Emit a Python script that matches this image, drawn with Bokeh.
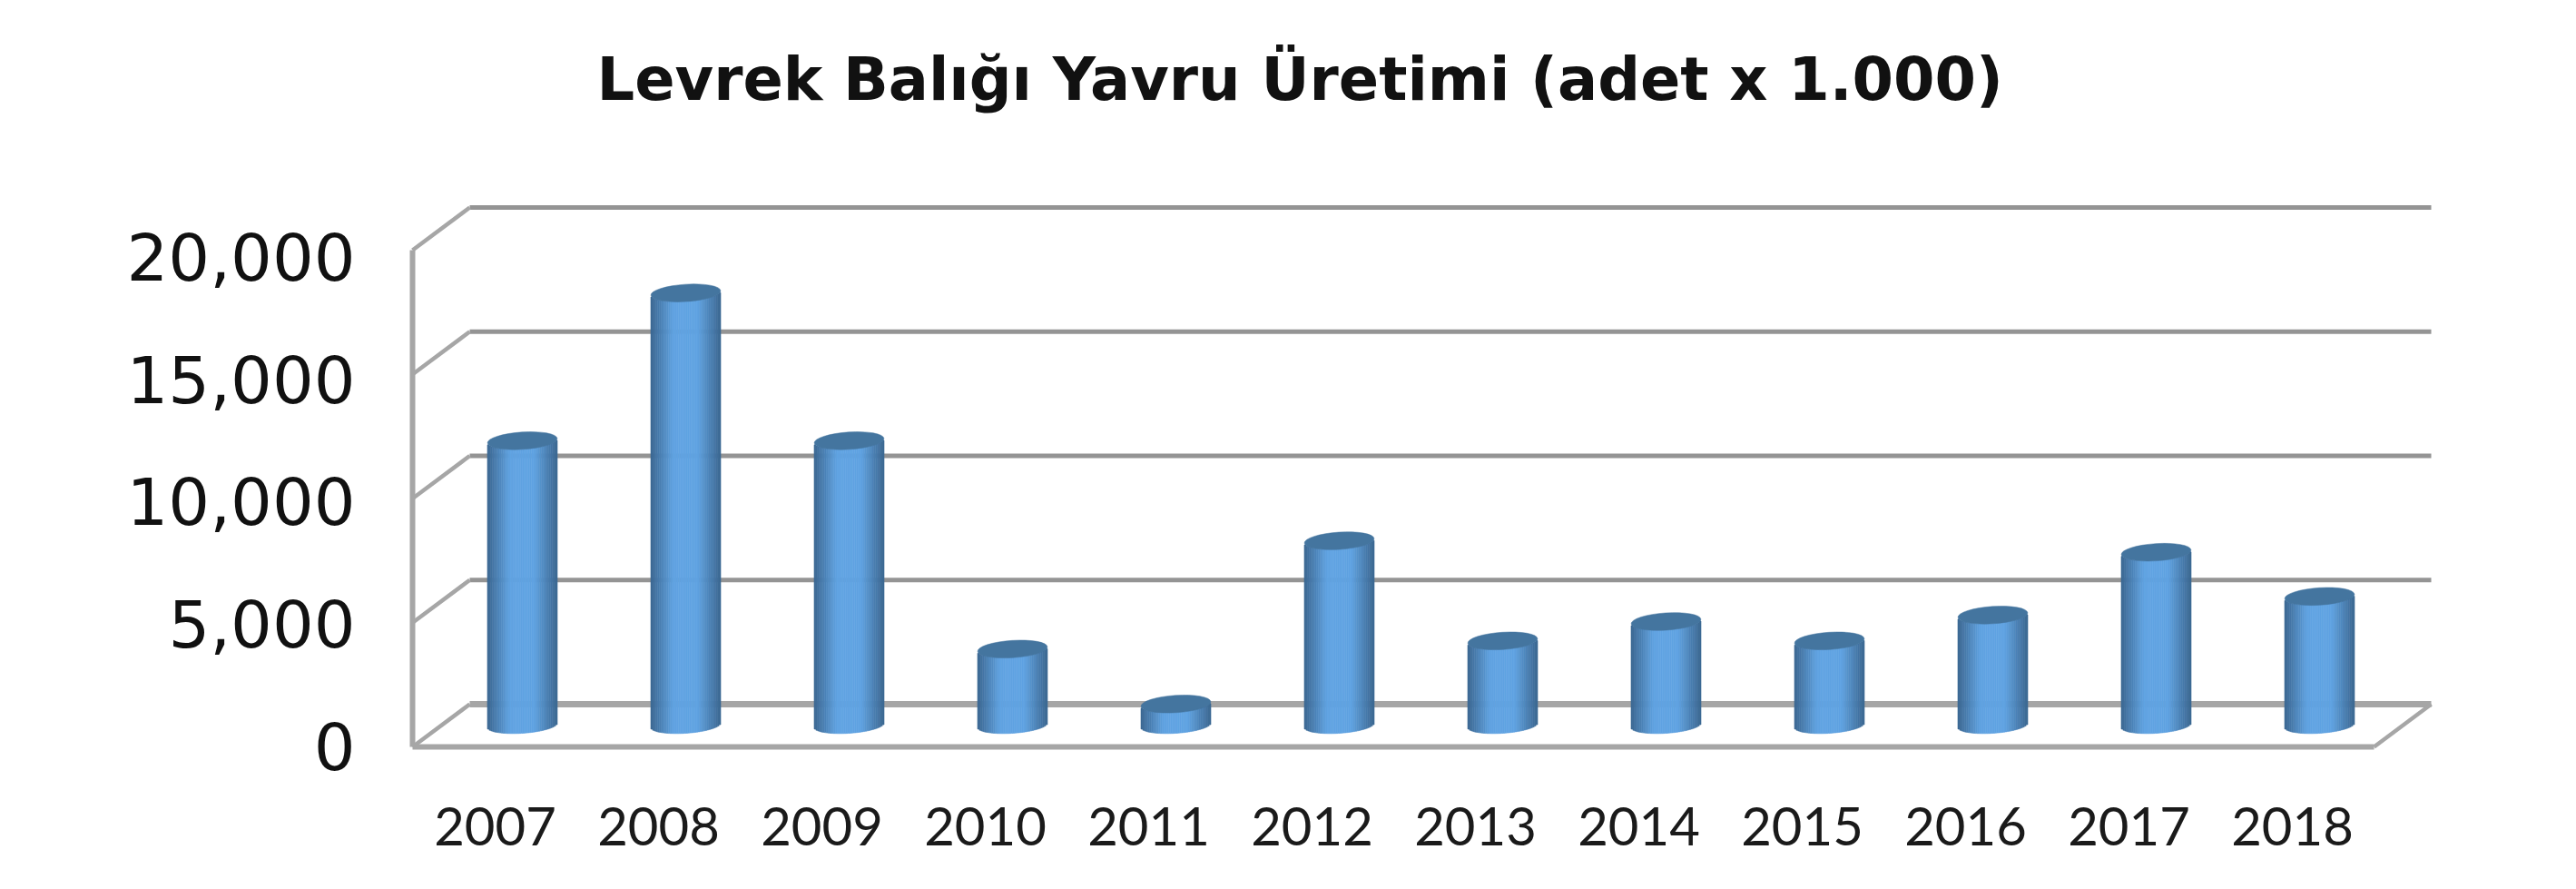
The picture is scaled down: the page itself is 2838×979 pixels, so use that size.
import numpy as np
from bokeh.embed import file_html
from bokeh.models import ColumnDataSource, FixedTicker, Label, LinearAxis, NumeralTickFormatter, Range1d
from bokeh.plotting import figure
from bokeh.resources import INLINE

TITLE = "Levrek Balığı Yavru Üretimi (adet x 1.000)"
years = [2007, 2008, 2009, 2010, 2011, 2012, 2013, 2014, 2015, 2016, 2017, 2018]
values = [11450, 17400, 11450, 3060, 850, 7420, 3390, 4170, 3390, 4430, 6960, 5180]
y_ticks = [0, 5000, 10000, 15000, 20000]

# scale of the drawing
PX_YEAR = 180.0
UNITS_PX = 5000 / 136.75
BOX_L, BOX_B = 454, 822
PAD = 10                                  # keeps the front lines inside the frame
FRAME_L, FRAME_R, FRAME_T, FRAME_B = BOX_L - PAD, 2690, 20, BOX_B + PAD
YEAR0_PX = 545
x0 = years[0] + (FRAME_L - YEAR0_PX) / PX_YEAR
x1 = years[0] + (FRAME_R - YEAR0_PX) / PX_YEAR
y0 = -PAD * UNITS_PX
y1 = (BOX_B - FRAME_T) * UNITS_PX
DX, DY = 63 / PX_YEAR, 47 * UNITS_PX      # depth of the 3D box
BAR_DX, BAR_DY = 30 / PX_YEAR, 24 * UNITS_PX
LEFT = years[0] + (BOX_L - YEAR0_PX) / PX_YEAR
RIGHT = LEFT + 2161 / PX_YEAR

p = figure(width=2822, height=963, output_backend="svg", toolbar_location=None,
           x_range=Range1d(x0, x1), y_range=Range1d(y0, y1),
           min_border_left=FRAME_L, min_border_right=2822 - FRAME_R,
           min_border_top=FRAME_T, min_border_bottom=963 - FRAME_B,
           background_fill_color="white", border_fill_color="white",
           outline_line_color=None, y_axis_location=None)
p.grid.visible = False

# chart title, placed above the box
p.add_layout(Label(x=years[0] + (657 - YEAR0_PX) / PX_YEAR, y=(BOX_B - 86) * UNITS_PX, text=TITLE,
                   text_font="DejaVu Sans", text_font_size="65.4px", text_font_style="bold",
                   text_color="#111111", text_baseline="middle", text_align="left"))

# cylinders live on ranges shifted half way into the box
p.extra_x_ranges["mid"] = Range1d(x0 - BAR_DX, x1 - BAR_DX)
p.extra_y_ranges["mid"] = Range1d(y0 - BAR_DY, y1 - BAR_DY)
# tick labels of the value axis are spaced slightly tighter than the box
LAB = 137 / 135
p.extra_y_ranges["lab"] = Range1d(y0 * LAB - 40, y1 * LAB - 40)

ax = p.xaxis[0]
ax.ticker = FixedTicker(ticks=years)
ax.formatter = NumeralTickFormatter(format="0")
ax.axis_line_color = None
ax.major_tick_line_color = None
ax.minor_tick_line_color = None
ax.major_label_standoff = 50
ax.major_label_text_font = "Lato"
ax.major_label_text_font_size = "58px"
ax.major_label_text_color = "#1a1a1a"

yax = LinearAxis(y_range_name="lab", ticker=FixedTicker(ticks=y_ticks),
                 formatter=NumeralTickFormatter(format="0,0"))
yax.axis_line_color = None
yax.major_tick_line_color = None
yax.minor_tick_line_color = None
yax.major_label_standoff = 47
yax.major_label_text_font = "DejaVu Sans"
yax.major_label_text_font_size = "72px"
yax.major_label_text_color = "#111111"
p.add_layout(yax, "left")

GREY = "#a6a6a6"
# back wall lines
upper = [t for t in y_ticks if t > 0]
p.segment(x0=[LEFT + DX] * len(upper), x1=[RIGHT + DX] * len(upper),
          y0=[t + DY for t in upper], y1=[t + DY for t in upper],
          line_color="#949494", line_width=5)
p.segment(x0=[LEFT + DX], x1=[RIGHT + DX], y0=[DY], y1=[DY], line_color=GREY, line_width=7)
# side diagonals
p.segment(x0=[LEFT] * len(y_ticks), x1=[LEFT + DX] * len(y_ticks),
          y0=y_ticks, y1=[t + DY for t in y_ticks], line_color=GREY, line_width=4.5)
p.segment(x0=[RIGHT], x1=[RIGHT + DX], y0=[0], y1=[DY], line_color=GREY, line_width=4.5)
# front axis lines
p.segment(x0=[LEFT], x1=[LEFT], y0=[0], y1=[y_ticks[-1]], line_color=GREY, line_width=6)
p.segment(x0=[LEFT], x1=[RIGHT], y0=[0], y1=[0], line_color=GREY, line_width=6)

# cylinders: vertical strips with a horizontal shading
N = 40
half = 38.5 / PX_YEAR
dark = np.array([0x3a, 0x66, 0x90])
light = np.array([0x60, 0xa3, 0xe2])
L, R, B, T, C = [], [], [], [], []
for yr, v in zip(years, values):
    for i in range(N):
        u = (i + 0.5) / N * 2 - 1
        low = -9 * np.sqrt(1 - u * u) * UNITS_PX + 2.5 * u * UNITS_PX
        shade = min(1.0, (1 - abs(u)) / 0.65)
        col = dark + (light - dark) * shade
        L.append(yr + (i / N * 2 - 1) * half)
        R.append(yr + ((i + 1) / N * 2 - 1) * half)
        B.append(low)
        T.append(v + low)
        C.append("#%02x%02x%02x" % tuple(int(c) for c in col))
src = ColumnDataSource(dict(left=L, right=R, bottom=B, top=T, color=C))
p.quad(left="left", right="right", bottom="bottom", top="top", source=src,
       fill_color="color", line_color="color", line_width=0.6,
       x_range_name="mid", y_range_name="mid")
p.ellipse(x=years, y=values, width=77, height=19, width_units="screen", height_units="screen",
          angle=0.065, fill_color="#44759f", line_color="#44759f", line_width=0.5,
          x_range_name="mid", y_range_name="mid")

open("out.html", "w").write(file_html(p, INLINE))
